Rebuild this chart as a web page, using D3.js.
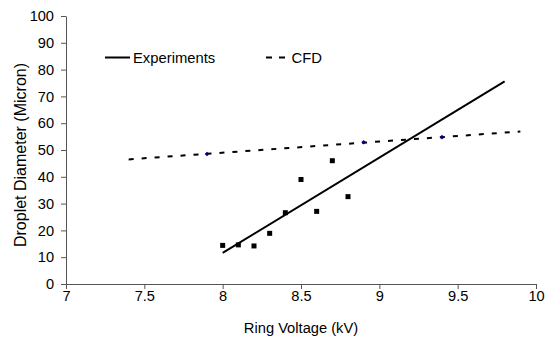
<!DOCTYPE html>
<html lang="en">
  <head>
    <meta charset="UTF-8" />
    <title>Droplet Diameter vs Ring Voltage</title>
    <script src="https://cdn.jsdelivr.net/npm/d3@7"></script>
    <style>
      body {
        margin: 0;
        background: #fff;
      }
      svg {
        display: block;
        font-family: "Liberation Sans", Arial, sans-serif;
      }
      .axis path,
      .axis line {
        stroke: #555;
      }
      .axis text {
        font-size: 14.6px;
        fill: #000;
      }
    </style>
  </head>
  <body>
    <script>
      // experiments (square markers) and the fitted line drawn over them
      const expVoltage = [8.0, 8.1, 8.2, 8.3, 8.4, 8.5, 8.6, 8.7, 8.8];
      const expDiameter = [14.4, 14.6, 14.2, 18.9, 26.6, 39.0, 27.1, 46.0, 32.6];
      const expTrendVoltage = [8.0, 9.8];
      const expTrendDiameter = [11.6, 75.6];

      // CFD points and their dashed trend line
      const cfdVoltage = [7.9, 8.9, 9.4];
      const cfdDiameter = [48.5, 52.9, 54.8];
      const cfdTrendVoltage = [7.4, 9.9];
      const cfdTrendDiameter = [46.5, 56.9];

      const xTicks = [7, 7.5, 8, 8.5, 9, 9.5, 10];
      const yTicks = [0, 10, 20, 30, 40, 50, 60, 70, 80, 90, 100];

      const width = 547;
      const height = 339;
      const plotLeft = 66;
      const plotRight = 536;
      const plotTop = 16;
      const plotBottom = 284;

      const x = d3.scaleLinear().domain([7, 10]).range([plotLeft, plotRight]);
      const y = d3.scaleLinear().domain([0, 100]).range([plotBottom, plotTop]);

      const svg = d3
        .select("body")
        .append("svg")
        .attr("width", width)
        .attr("height", height);

      svg
        .append("g")
        .attr("class", "axis")
        .attr("transform", "translate(0," + plotBottom + ")")
        .call(
          d3
            .axisBottom(x)
            .tickValues(xTicks)
            .tickSize(5)
            .tickSizeOuter(0)
            .tickPadding(1.5)
            .tickFormat(d3.format(""))
        );

      svg
        .append("g")
        .attr("class", "axis")
        .attr("transform", "translate(" + plotLeft + ",0)")
        .call(
          d3
            .axisLeft(y)
            .tickValues(yTicks)
            .tickSize(5)
            .tickSizeOuter(0)
            .tickPadding(7)
        );

      const line = d3
        .line()
        .x(d => x(d[0]))
        .y(d => y(d[1]));

      // CFD dashed trend
      svg
        .append("path")
        .datum(d3.zip(cfdTrendVoltage, cfdTrendDiameter))
        .attr("d", line)
        .attr("fill", "none")
        .attr("stroke", "#000")
        .attr("stroke-width", 2)
        .attr("stroke-dasharray", "5,8");

      // experiments trend
      svg
        .append("path")
        .datum(d3.zip(expTrendVoltage, expTrendDiameter))
        .attr("d", line)
        .attr("fill", "none")
        .attr("stroke", "#000")
        .attr("stroke-width", 2);

      svg
        .selectAll("rect.exp")
        .data(d3.zip(expVoltage, expDiameter))
        .enter()
        .append("rect")
        .attr("class", "exp")
        .attr("x", d => x(d[0]) - 2.5)
        .attr("y", d => y(d[1]) - 2.5)
        .attr("width", 5)
        .attr("height", 5)
        .attr("fill", "#000");

      svg
        .selectAll("path.cfd")
        .data(d3.zip(cfdVoltage, cfdDiameter))
        .enter()
        .append("path")
        .attr("class", "cfd")
        .attr("d", d3.symbol(d3.symbolDiamond2, 14))
        .attr("transform", d => "translate(" + x(d[0]) + "," + y(d[1]) + ")")
        .attr("fill", "#000080");

      // axis titles
      svg
        .append("text")
        .attr("x", (plotLeft + plotRight) / 2)
        .attr("y", 333)
        .attr("text-anchor", "middle")
        .style("font-size", "14.7px")
        .text("Ring Voltage (kV)");

      svg
        .append("text")
        .attr("transform", "translate(25.5," + 155 + ") rotate(-90)")
        .attr("text-anchor", "middle")
        .style("font-size", "16px")
        .text("Droplet Diameter (Micron)");

      // legend
      const legend = svg.append("g").style("font-size", "14.8px");
      legend
        .append("line")
        .attr("x1", 105)
        .attr("x2", 130)
        .attr("y1", 57.5)
        .attr("y2", 57.5)
        .attr("stroke", "#000")
        .attr("stroke-width", 2);
      legend
        .append("text")
        .attr("x", 133)
        .attr("y", 63)
        .text("Experiments");
      legend
        .append("line")
        .attr("x1", 266)
        .attr("x2", 286)
        .attr("y1", 57.5)
        .attr("y2", 57.5)
        .attr("stroke", "#000")
        .attr("stroke-width", 2)
        .attr("stroke-dasharray", "6,7");
      legend
        .append("text")
        .attr("x", 291.5)
        .attr("y", 63)
        .text("CFD");
    </script>
  </body>
</html>
